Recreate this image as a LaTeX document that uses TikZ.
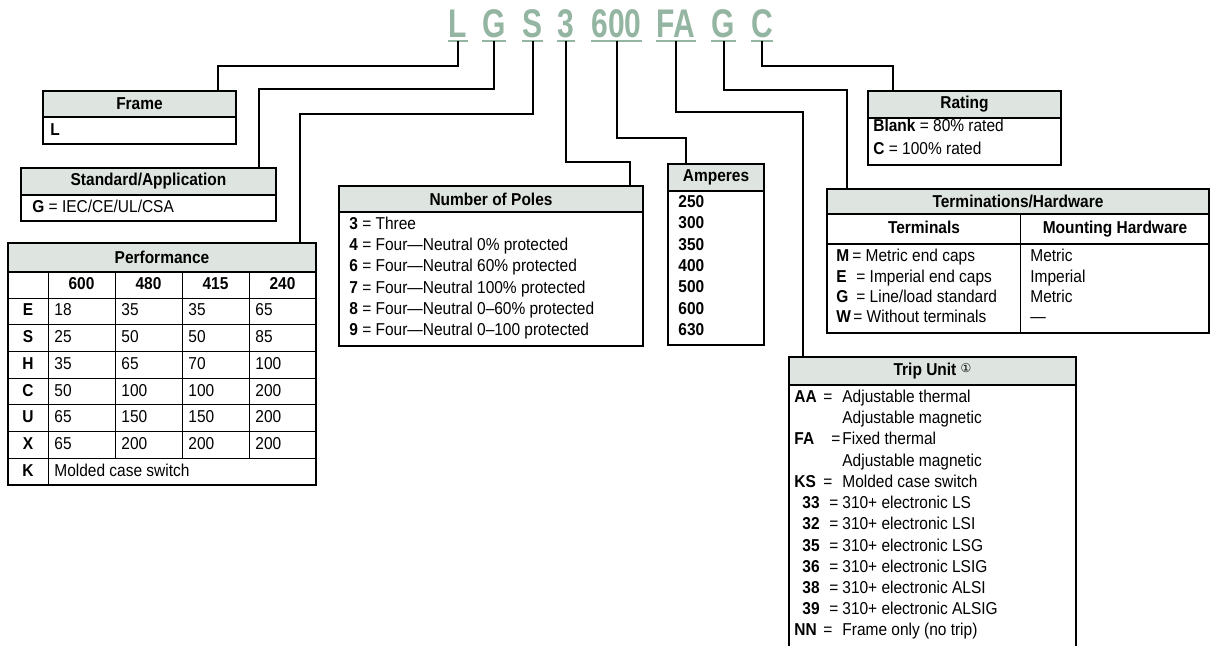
\documentclass[tikz,border=0pt]{standalone}
\usepackage{fontspec}
\setmainfont{Liberation Sans}[FakeStretch=0.9]
\newfontfamily\codefont{Liberation Sans}[FakeStretch=0.75]
\newfontfamily\markfont{DejaVu Sans}
\usepackage{tikz}
\usetikzlibrary{positioning}
\definecolor{codegreen}{RGB}{148,181,161}
\definecolor{headfill}{RGB}{222,229,224}
\newcommand{\txtsize}{\fontsize{8.6pt}{10.5pt}\selectfont}

\tikzset{
  code/.style={font=\codefont\bfseries\fontsize{20pt}{20pt}\selectfont, text=codegreen,
    inner xsep=0pt, inner ysep=1.6pt, text depth=0pt, anchor=base},
  uline/.style={codegreen, line width=1pt},
  wire/.style={line width=1pt},
  head/.style={draw, line width=0.7pt, fill=headfill, font=\txtsize\bfseries,
    inner sep=0pt, outer sep=0pt, anchor=north west},
  body/.style={draw, line width=0.7pt, inner sep=0pt, outer sep=0pt, anchor=north west},
  item/.style={font=\txtsize, anchor=west, inner sep=0pt, text height=6pt, text depth=1.5pt},
  bitem/.style={item, font=\txtsize\bfseries},
  grid/.style={line width=0.5pt},
}

\begin{document}
\begin{tikzpicture}[x=0.5pt, y=-0.5pt]
    \useasboundingbox (0,0) rectangle (1211,645);

    % Catalog number
    \foreach \n/\t/\x in {cL/L/458, cG/G/494, cS/S/532.5, cP/3/566, cA/600/616.5,
                          cT/FA/676, cH/G/723.5, cR/C/762} {
        \node[code] (\n) at (\x,37) {\t};
        \draw[uline] (\n.south west) -- (\n.south east);
    }

    % Frame
    \node[head, minimum width=96.5pt, minimum height=13pt] (frameHead) at (43,91) {Frame};
    \node[body, minimum width=96.5pt, minimum height=13.5pt] (frameBody) at (frameHead.south west) {};
    \node[bitem] (frameL) at (50,131) {L};

    % Standard/Application
    \node[head, minimum width=127.5pt, minimum height=13.5pt] (stdHead) at (21,168) {Standard/Application};
    \node[body, minimum width=127.5pt, minimum height=13pt] (stdBody) at (stdHead.south west) {};
    \node[item] (stdG) at (32,208) {\textbf{G} = IEC/CE/UL/CSA};

    % Performance
    \node[head, minimum width=154pt, minimum height=14.5pt] (perfHead) at (8,243) {Performance};
    \node[body, minimum width=154pt, minimum height=106.5pt] (perfBody) at (perfHead.south west) {};
    \foreach \y in {298,324.7,351.4,378.1,404.8,431.5,458.2}
        \draw[grid] (8,\y) -- (316,\y);
    \draw[grid] (48,272) -- (48,485);
    \foreach \x in {115,182,249}
        \draw[grid] (\x,272) -- (\x,458.2);
    \foreach \v/\x in {600/81.5, 480/148.5, 415/215.5, 240/282.5}
        \node[bitem, anchor=center] (perfV\v) at (\x,285) {\v};
    \foreach \r/\a/\b/\c/\d [count=\i] in {E/18/35/35/65, S/25/50/50/85, H/35/65/70/100,
                                          C/50/100/100/200, U/65/150/150/200, X/65/200/200/200} {
        \pgfmathsetmacro{\yy}{311.4+26.7*(\i-1)}
        \node[bitem, anchor=center] (perfR\i) at (28,\yy) {\r};
        \node[item] (perfA\i) at (54,\yy) {\a};
        \node[item] (perfB\i) at (121,\yy) {\b};
        \node[item] (perfC\i) at (188,\yy) {\c};
        \node[item] (perfD\i) at (255,\yy) {\d};
    }
    \node[bitem, anchor=center] (perfK) at (28,472) {K};
    \node[item] (perfKtxt) at (54,472) {Molded case switch};

    % Number of Poles
    \node[head, minimum width=152pt, minimum height=13pt] (polesHead) at (339,186) {Number of Poles};
    \node[body, minimum width=152pt, minimum height=67pt] (polesBody) at (polesHead.south west) {};
    \foreach \n/\d [count=\i] in {3/Three, 4/Four---Neutral 0\% protected,
                                  6/Four---Neutral 60\% protected, 7/Four---Neutral 100\% protected,
                                  8/Four---Neutral 0--60\% protected, 9/Four---Neutral 0--100 protected}
        \node[item] (poles\n) at (349,{225+21.2*(\i-1)}) {\textbf{\n} = \d};

    % Amperes
    \node[head, minimum width=48pt, minimum height=13.5pt] (ampsHead) at (668,164) {Amperes};
    \node[body, minimum width=48pt, minimum height=77pt] (ampsBody) at (ampsHead.south west) {};
    \foreach \a [count=\i] in {250,300,350,400,500,600,630}
        \node[bitem] (amps\a) at (678,{203+21.3*(\i-1)}) {\a};

    % Rating
    \node[head, minimum width=96.5pt, minimum height=13.5pt] (ratingHead) at (868,91) {Rating};
    \node[body, minimum width=96.5pt, minimum height=23.5pt] (ratingBody) at (ratingHead.south west) {};
    \node[item] (ratingBlank) at (873,127) {\textbf{Blank} = 80\% rated};
    \node[item] (ratingC) at (873,150) {\textbf{C} = 100\% rated};

    % Terminations/Hardware
    \node[head, minimum width=191pt, minimum height=12.5pt] (termHead) at (827,189) {Terminations/Hardware};
    \node[body, minimum width=191pt, minimum height=59.5pt] (termBody) at (termHead.south west) {};
    \draw[grid, line width=0.7pt] (827,244) -- (1209,244);
    \draw[grid] (1020,214) -- (1020,333);
    \node[bitem, anchor=center] (termT) at (924,229) {Terminals};
    \node[bitem, anchor=center] (termM) at (1115,229) {Mounting Hardware};
    \foreach \y/\c/\ex/\d/\m in {257/M/852/Metric end caps/Metric, 278/E/856/Imperial end caps/Imperial,
                                 298/G/856/{Line/load standard}/Metric, 318/W/853/Without terminals/---} {
        \node[bitem] (term\c) at (836,\y) {\c};
        \node[item] (term\c txt) at (\ex,\y) {= \d};
        \node[item] (term\c hw) at (1030,\y) {\m};
    }

    % Trip Unit
    \node[head, minimum width=143.5pt, minimum height=14pt] (tripHead) at (789,357)
        {Trip Unit {\markfont\mdseries\fontsize{6pt}{6pt}\selectfont\raisebox{1.5pt}{①}}};
    \node[body, minimum width=143.5pt, minimum height=137.5pt] (tripBody) at (tripHead.south west) {};
    \foreach \y/\c/\cx/\ex/\d in {398/AA/794/823/Adjustable thermal, 440/FA/794/831/Fixed thermal,
                                  483/KS/794/823/Molded case switch, 504/33/802/829/310+ electronic LS,
                                  525/32/802/829/310+ electronic LSI, 547/35/802/829/310+ electronic LSG,
                                  568/36/802/829/310+ electronic LSIG, 589/38/802/829/310+ electronic ALSI,
                                  610/39/802/829/310+ electronic ALSIG, 631/NN/794/823/Frame only (no trip)} {
        \node[bitem] (trip\c) at (\cx,\y) {\c};
        \node[item] (trip\c eq) at (\ex,\y) {=};
        \node[item] (trip\c txt) at (842,\y) {\d};
    }
    \node[item] (tripAAmore) at (842,419) {Adjustable magnetic};
    \node[item] (tripFAmore) at (842,462) {Adjustable magnetic};

    % Connectors
    \coordinate (jFrame) at (218,66);
    \coordinate (jStd) at (259,89);
    \coordinate (jPerf) at (300,114);
    \coordinate (jPoles) at (630,162);
    \coordinate (jAmps) at (686,138);
    \coordinate (jTrip) at (803,112);
    \coordinate (jTerm) at (847,90);
    \coordinate (jRating) at (893,66);
    \draw[wire] (cL.south) |- (jFrame) -- (jFrame |- frameHead.north);
    \draw[wire] (cG.south) |- (jStd) -- (jStd |- stdHead.north);
    \draw[wire] (cS.south) |- (jPerf) -- (jPerf |- perfHead.north);
    \draw[wire] (cP.south) |- (jPoles) -- (jPoles |- polesHead.north);
    \draw[wire] (cA.south) |- (jAmps) -- (jAmps |- ampsHead.north);
    \draw[wire] (cT.south) |- (jTrip) -- (jTrip |- tripHead.north);
    \draw[wire] (cH.south) |- (jTerm) -- (jTerm |- termHead.north);
    \draw[wire] (cR.south) |- (jRating) -- (jRating |- ratingHead.north);
\end{tikzpicture}
\end{document}
